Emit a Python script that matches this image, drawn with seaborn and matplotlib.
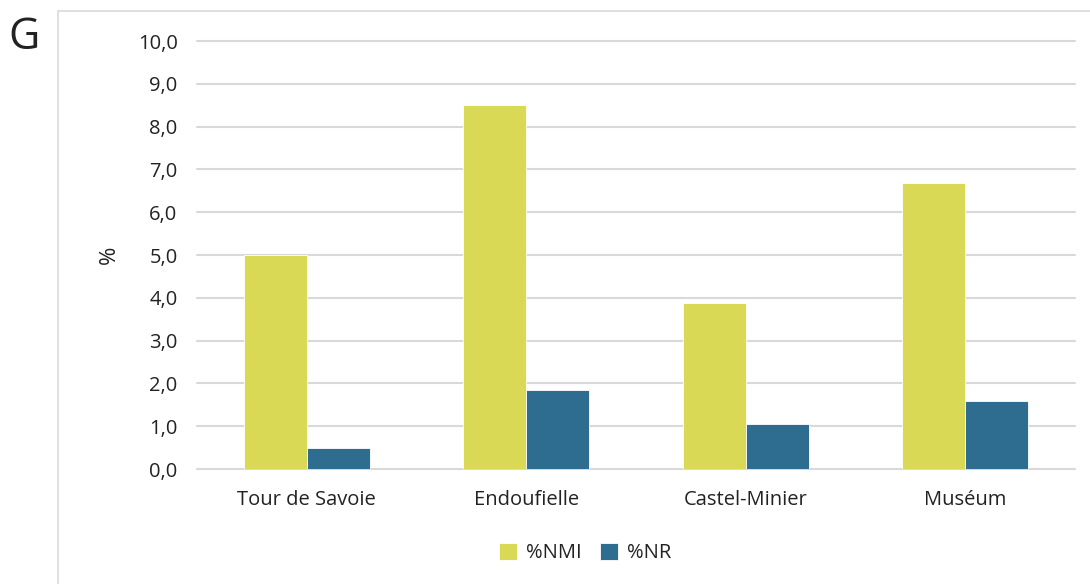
import matplotlib
matplotlib.use("Agg")
import matplotlib.pyplot as plt
from matplotlib.patches import Rectangle
import seaborn as sns
import pandas as pd

sites = ["Tour de Savoie", "Endoufielle", "Castel-Minier", "Muséum"]
nmi = [5.0, 8.5, 3.88, 6.68]
nr = [0.48, 1.85, 1.06, 1.59]
series = ["%NMI", "%NR"]
yticks = [0, 1, 2, 3, 4, 5, 6, 7, 8, 9, 10]

df = pd.DataFrame({
    "site": sites * 2,
    "serie": [series[0]] * len(sites) + [series[1]] * len(sites),
    "pct": nmi + nr,
})

sns.set_theme(style="white")
plt.rcParams["font.family"] = ["Open Sans", "DejaVu Sans"]

W, H = 1090, 584
FS = 14.5
TXT = "#222222"
fig = plt.figure(figsize=(W / 100, H / 100), dpi=100)
ax = fig.add_axes([197 / W, (H - 469) / H, (1075 - 197) / W, (469 - 41) / H])

palette = {series[0]: "#DAD955", series[1]: "#2E6D8F"}
sns.barplot(data=df, x="site", y="pct", hue="serie", palette=palette,
            width=0.575, saturation=1, edgecolor="white", linewidth=0.6,
            ax=ax, legend=True, zorder=3)

ax.set_ylim(0, 10)
ax.set_yticks(yticks)
ax.set_yticklabels([f"{v:.1f}".replace(".", ",") for v in yticks], fontsize=FS, color=TXT)
ax.tick_params(axis="x", labelsize=FS, colors=TXT, pad=15, length=0)
ax.tick_params(axis="y", pad=14, length=0)
ax.grid(axis="y", color="#d9d9d9", linewidth=1.5, zorder=0)
for gl in ax.get_ygridlines():
    gl.set_clip_on(False)
ax.set_axisbelow(True)
for s in ax.spines.values():
    s.set_visible(False)
ax.set_xlabel("")
ax.set_ylabel("%", fontsize=16, color=TXT)
ax.yaxis.set_label_coords(-0.088, 0.5)
ax.set_xlim(-0.5, 3.5)

leg = ax.legend(loc="center", bbox_to_anchor=(585 / W, (H - 553) / H),
                bbox_transform=fig.transFigure, ncol=2, frameon=False,
                fontsize=FS, handlelength=0.9, handleheight=0.9,
                handletextpad=0.45, columnspacing=0.9)
for t in leg.get_texts():
    t.set_color(TXT)

# chart area border
fig.patches.append(Rectangle((58 / W, -0.05), 1.1, (H - 11) / H + 0.05,
                             transform=fig.transFigure, fill=False,
                             edgecolor="#d9d9d9", linewidth=1.2))

fig.text(8 / W, (H - 38) / H, "G", fontsize=31, color=TXT, va="center", ha="left")

fig.savefig("out.png", dpi=100)
